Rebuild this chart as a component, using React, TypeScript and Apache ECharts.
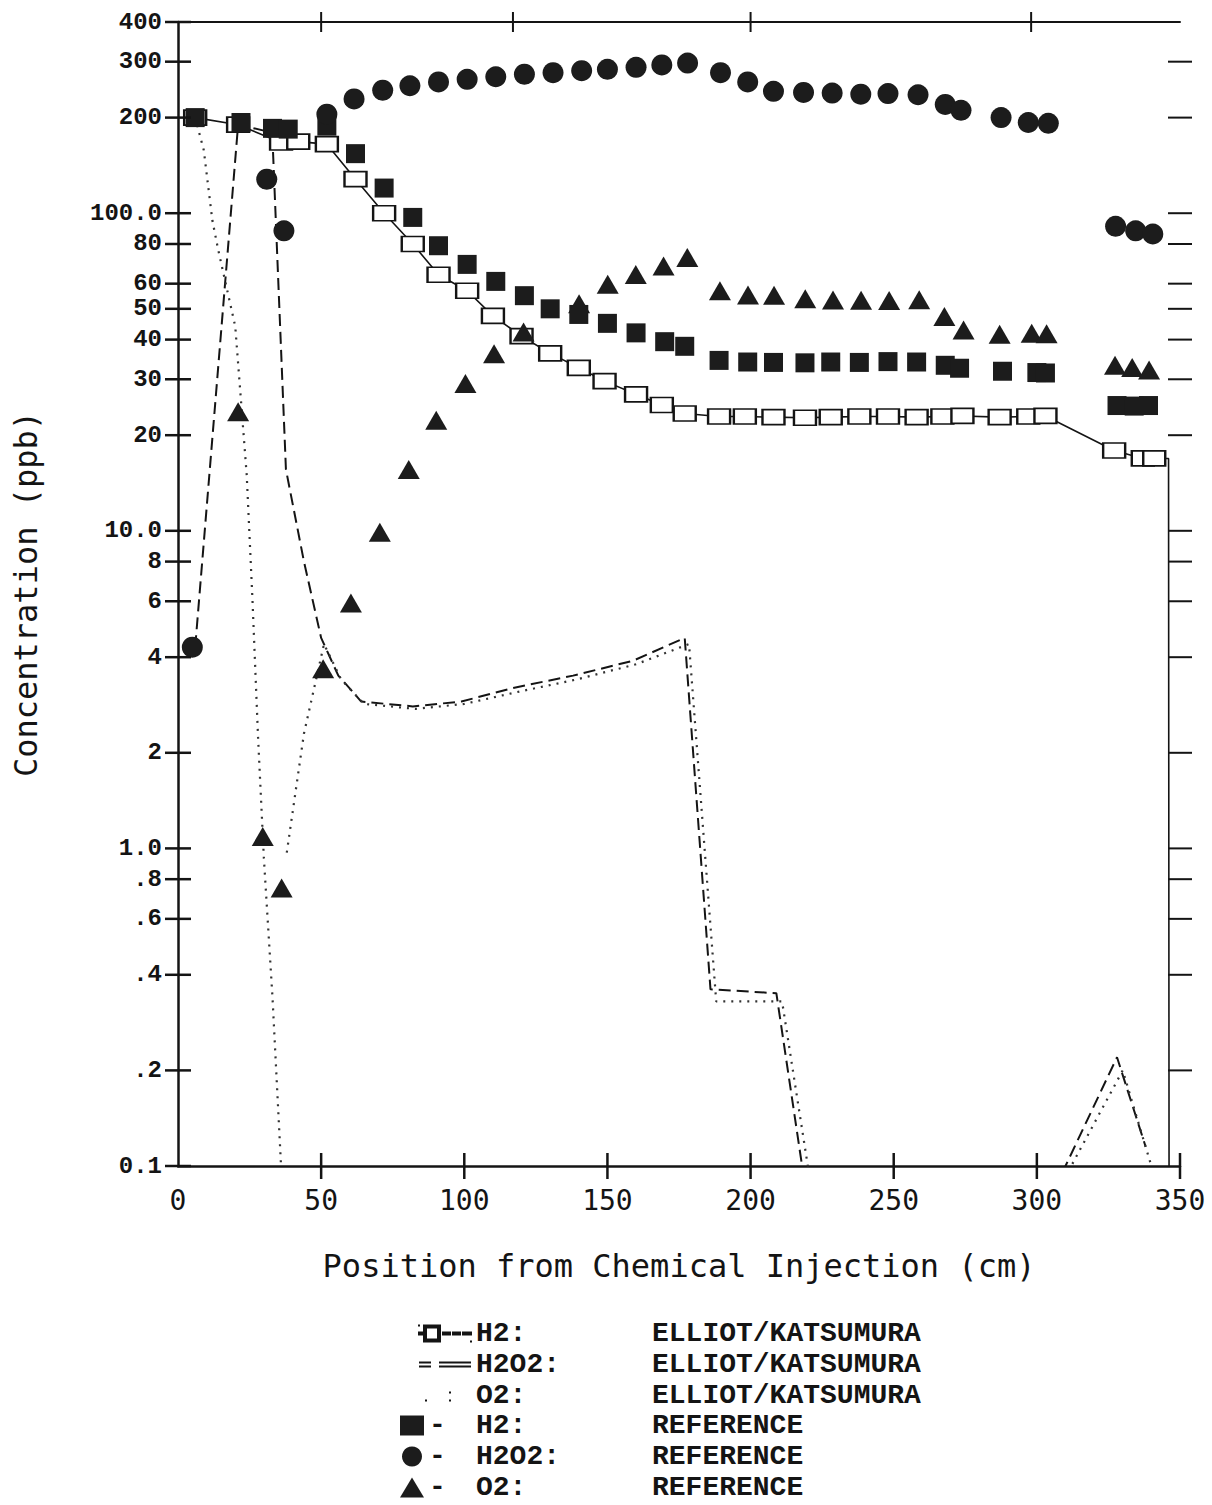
import React, { useEffect, useRef } from "react";
import * as echarts from "echarts";

// ---------- axis ticks ----------
const yTickValues = [0.1, 0.2, 0.4, 0.6, 0.8, 1, 2, 4, 6, 8, 10, 20, 30, 40, 50, 60, 80, 100, 200, 300, 400];
const yTickLabels = ["0.1", ".2", ".4", ".6", ".8", "1.0", "2", "4", "6", "8", "10.0", "20", "30", "40", "50", "60", "80", "100.0", "200", "300", "400"];
const rightTickValues = [0.2, 0.4, 0.6, 0.8, 1, 2, 4, 6, 8, 10, 20, 30, 40, 50, 60, 80, 100, 200, 300];
const xTickValues = [50, 100, 150, 200, 250, 300, 350];
const topTickValues = [50, 117, 200, 298];

// ---------- REFERENCE (symbols) ----------
const h2RefX = [6, 22, 33, 38.5, 52, 62, 72, 82, 91, 101, 111, 121, 130, 140, 150, 160, 170, 177, 189, 199, 208, 219, 228, 238, 248, 258, 268, 273, 288, 300, 303, 328, 334, 339];
const h2RefV = [200, 193, 185, 184, 188, 154, 120, 97, 79, 69, 61, 55, 50, 48, 45, 42, 39.4, 38.1, 34.4, 34.0, 33.9, 33.8, 34.0, 33.9, 34.1, 34.0, 33.2, 32.5, 31.8, 31.5, 31.4, 24.8, 24.7, 24.8];

const h2o2RefX = [5, 31, 37, 52, 61.5, 71.5, 81, 91, 101, 111, 121, 131, 141, 150, 160, 169, 178, 189.5, 199, 208, 218.5, 228.5, 238.5, 248, 258.5, 268, 273.5, 287.5, 297, 304, 327.5, 334.5, 340.5];
const h2o2RefV = [4.3, 128, 88, 205, 229, 244, 252, 259, 264, 269, 274, 277, 281, 284, 288, 293, 297, 277, 259, 242, 240, 239, 237, 238, 236, 220, 211, 200, 193, 192, 91, 88, 86];

const o2RefX = [21, 29.6, 36.2, 50.7, 60.4, 70.5, 80.6, 90.2, 100.4, 110.4, 120.7, 140.1, 150.1, 159.9, 169.6, 177.9, 189.3, 199.1, 208.2, 219.1, 228.8, 238.6, 248.4, 258.9, 267.7, 274.4, 287, 298.2, 303.4, 327.3, 333.3, 339.2];
const o2RefV = [23.7, 1.09, 0.75, 3.68, 5.93, 9.9, 15.6, 22.3, 29.1, 36.1, 42.3, 51.9, 59.8, 64.1, 68.2, 72.6, 57.0, 55.3, 55.2, 53.8, 53.3, 53.2, 53.1, 53.4, 47.3, 42.9, 41.6, 41.9, 41.7, 33.2, 32.7, 32.1];

// ---------- ELLIOT/KATSUMURA (model lines) ----------
const h2ModelX = [6, 21, 36, 42, 52, 62, 72, 82, 91, 101, 110, 120, 130, 140, 149, 160, 169, 177, 189, 198, 208, 219, 228, 238, 248, 258, 267, 274, 287, 297, 303, 327, 337, 341, 346, 346.2];
const h2ModelV = [200, 190, 167, 168, 165, 128, 100, 80, 64, 57, 47.5, 41, 36.2, 32.6, 29.6, 26.9, 24.9, 23.4, 22.9, 22.9, 22.8, 22.7, 22.8, 22.9, 22.9, 22.8, 22.9, 23.0, 22.8, 22.9, 23.0, 17.9, 16.9, 16.9, 16.9, 0.05];
const h2ModelMarked = 34; // points with an open-square marker

const h2o2ModelX = [6, 21, 30, 33, 37.7, 44, 50, 56, 64, 82, 99, 117, 138, 159, 177, 186, 209, 218, 219, 306, 310, 328, 338];
const h2o2ModelV = [4.3, 190, 182, 172, 15.6, 8, 4.6, 3.5, 2.9, 2.8, 2.9, 3.2, 3.5, 3.9, 4.6, 0.36, 0.35, 0.1, 0.05, 0.05, 0.1, 0.22, 0.115];

const o2ModelX = [6, 9, 12, 14, 20, 24, 26, 28, 30, 33, 36, 36.5, 37, 38, 44, 51, 57, 65, 83, 100, 118, 139, 160, 178.5, 188, 211, 220, 221, 306, 312, 330, 340];
const o2ModelV = [200, 158, 95, 77, 44, 15, 6.1, 2.2, 0.93, 0.34, 0.1, 0.06, null, 0.97, 2.3, 4.4, 3.4, 2.85, 2.75, 2.85, 3.1, 3.4, 3.8, 4.4, 0.33, 0.33, 0.1, 0.05, 0.05, 0.1, 0.2, 0.1];

const LOG_MAX = Math.log10(400);
const lg = (v: number | null) => (v == null ? null : Math.log10(v));
const pairs = (xs: number[], vs: (number | null)[]) => xs.map((x, i) => [x, lg(vs[i])]);

const INK = "#141414";
const MONO = "Liberation Mono, DejaVu Sans Mono, monospace";
const SANSMONO = "DejaVu Sans Mono, Liberation Mono, monospace";

// legend icons (52 x 16 boxes)
const ICON_H2_MODEL =
  "path://M0,7h3v2h-3z M5,0h16v2h-16z M5,14h16v2h-16z M5,0h2v16h-2z M19,0h2v16h-2z M24,7h7v2h-7z M34,7h7v2h-7z M44,7h8v2h-8z M0,0h0.01v0.01h-0.01z M52,16h-0.01v-0.01h0.01z";
const ICON_H2O2_MODEL =
  "path://M0,5h12v2h-12z M0,9h12v2h-12z M20,5h32v2h-32z M20,9h32v2h-32z M0,0h0.01v0.01h-0.01z M52,16h-0.01v-0.01h0.01z";
const ICON_O2_MODEL =
  "path://M6,12h2v2h-2z M30,4h2v2h-2z M30,12h2v2h-2z M0,0h0.01v0.01h-0.01z M52,16h-0.01v-0.01h0.01z";

const tickSeries = (name: string, data: number[][], size: number[]) => ({
  type: "scatter",
  name,
  data,
  symbol: "rect",
  symbolSize: size,
  itemStyle: { color: INK, opacity: 1 },
  clip: false,
  silent: true,
  z: 6,
});

const LEG_FONT = 28;
const LEG_LH = 31;
const makeRich = () => ({
  p: { width: 47, fontFamily: MONO, fontSize: LEG_FONT, fontWeight: "bold", color: INK, lineHeight: LEG_LH },
  a: { width: 176, fontFamily: MONO, fontSize: LEG_FONT, fontWeight: "bold", color: INK, lineHeight: LEG_LH },
  b: { fontFamily: MONO, fontSize: LEG_FONT, fontWeight: "bold", color: INK, lineHeight: LEG_LH },
});

export default function App() {
  const ref = useRef<HTMLDivElement>(null);

  useEffect(() => {
    if (!ref.current) return;
    const chart = echarts.init(ref.current, null, { renderer: "svg" });

    const labelFor = (v: number) => {
      let best = 0;
      let bd = Infinity;
      yTickValues.forEach((t, i) => {
        const d = Math.abs(Math.log10(t) - v);
        if (d < bd) {
          bd = d;
          best = i;
        }
      });
      return yTickLabels[best];
    };

    const h2ModelData = pairs(h2ModelX, h2ModelV).map((p, i) =>
      i < h2ModelMarked ? { value: p } : { value: p, symbol: "none" }
    );

    const option: any = {
      animation: false,
      backgroundColor: "#ffffff",
      grid: { left: 178, right: 32, top: 22, bottom: 339, outerBoundsMode: "none", containLabel: false },
      legend: [
        {
          orient: "vertical",
          left: 418,
          top: 1318,
          padding: 0,
          itemGap: 0,
          itemWidth: 52,
          itemHeight: 16,
          selectedMode: false,
          data: [
            { name: "H2: ELLIOT/KATSUMURA", icon: ICON_H2_MODEL, itemStyle: { color: INK } },
            { name: "H2O2: ELLIOT/KATSUMURA", icon: ICON_H2O2_MODEL, itemStyle: { color: INK } },
            { name: "O2: ELLIOT/KATSUMURA", icon: ICON_O2_MODEL, itemStyle: { color: INK } },
          ],
          formatter: (name: string) => {
            const [a, b] = name.split(": ");
            return `{a|${a}:}{b|${b}}`;
          },
          textStyle: { lineHeight: LEG_LH, rich: makeRich() },
        },
        {
          orient: "vertical",
          left: 400,
          bottom: 2,
          padding: 0,
          itemGap: 0,
          itemWidth: 24,
          itemHeight: 20,
          selectedMode: false,
          data: ["H2: REFERENCE", "H2O2: REFERENCE", "O2: REFERENCE"],
          formatter: (name: string) => {
            const [a, b] = name.split(": ");
            return `{p|-}{a|${a}:}{b|${b}}`;
          },
          textStyle: { lineHeight: LEG_LH, rich: makeRich() },
        },
      ],
      xAxis: [
        {
          type: "value",
          position: "bottom",
          min: 0,
          max: 350,
          interval: 50,
          axisLine: { show: true, onZero: false, lineStyle: { color: INK, width: 2.5 } },
          axisTick: { show: false },
          splitLine: { show: false },
          axisLabel: { margin: 20, fontFamily: SANSMONO, fontSize: 28, color: INK },
          name: "Position from Chemical Injection (cm)",
          nameLocation: "middle",
          nameGap: 84,
          nameTextStyle: { fontFamily: SANSMONO, fontSize: 32, color: INK },
        },
        {
          type: "value",
          position: "top",
          min: 0,
          max: 350,
          axisLine: { show: true, onZero: false, lineStyle: { color: INK, width: 2 } },
          axisTick: { show: false },
          axisLabel: { show: false },
          splitLine: { show: false },
        },
      ],
      yAxis: [
        {
          type: "value",
          min: -1,
          max: LOG_MAX,
          axisLine: { show: true, onZero: false, lineStyle: { color: INK, width: 2.5 } },
          axisTick: { show: false },
          splitLine: { show: false },
          axisLabel: {
            customValues: yTickValues.map((v) => Math.log10(v)),
            formatter: (v: number) => labelFor(v),
            margin: 16,
            fontFamily: MONO,
            fontWeight: "bold",
            fontSize: 24,
            color: INK,
          },
          name: "Concentration (ppb)",
          nameLocation: "middle",
          nameGap: 136,
          nameTextStyle: { fontFamily: SANSMONO, fontSize: 32, color: INK },
        },
      ],
      series: [
        tickSeries("_leftTicks", yTickValues.map((v) => [0, Math.log10(v)]), [26, 2.5]),
        tickSeries("_rightTicks", rightTickValues.map((v) => [350, Math.log10(v)]), [24, 2]),
        tickSeries("_bottomTicks", xTickValues.map((x) => [x, -1]), [2.5, 26]),
        tickSeries("_topTicks", topTickValues.map((x) => [x, LOG_MAX]), [2, 20]),
        {
          type: "line",
          name: "H2: ELLIOT/KATSUMURA",
          data: h2ModelData,
          symbol: "rect",
          symbolSize: [22, 15],
          showSymbol: true,
          showAllSymbol: true,
          itemStyle: { color: "#ffffff", borderColor: INK, borderWidth: 2 },
          lineStyle: { color: INK, width: 1.6 },
          z: 3,
        },
        {
          type: "line",
          name: "H2O2: ELLIOT/KATSUMURA",
          data: pairs(h2o2ModelX, h2o2ModelV),
          symbol: "none",
          itemStyle: { color: INK },
          lineStyle: { color: INK, width: 2, type: [12, 6] },
          z: 2,
        },
        {
          type: "line",
          name: "O2: ELLIOT/KATSUMURA",
          data: pairs(o2ModelX, o2ModelV),
          symbol: "none",
          connectNulls: false,
          itemStyle: { color: "#333333" },
          lineStyle: { color: "#333333", width: 2.2, type: [2, 6] },
          z: 2,
        },
        {
          type: "scatter",
          name: "H2: REFERENCE",
          data: pairs(h2RefX, h2RefV),
          symbol: "rect",
          symbolSize: 19,
          itemStyle: { color: "#1c1c1c", opacity: 1 },
          z: 4,
        },
        {
          type: "scatter",
          name: "H2O2: REFERENCE",
          data: pairs(h2o2RefX, h2o2RefV),
          symbol: "circle",
          symbolSize: 21,
          itemStyle: { color: "#1c1c1c", opacity: 1 },
          z: 4,
        },
        {
          type: "scatter",
          name: "O2: REFERENCE",
          data: pairs(o2RefX, o2RefV),
          symbol: "triangle",
          symbolSize: [22, 19],
          itemStyle: { color: "#1c1c1c", opacity: 1 },
          z: 4,
        },
      ],
    };

    chart.setOption(option);
    return () => chart.dispose();
  }, []);

  return (
    <div
      ref={ref}
      style={{ position: "fixed", left: 0, top: 0, width: 1212, height: 1505, background: "#fff" }}
    />
  );
}
